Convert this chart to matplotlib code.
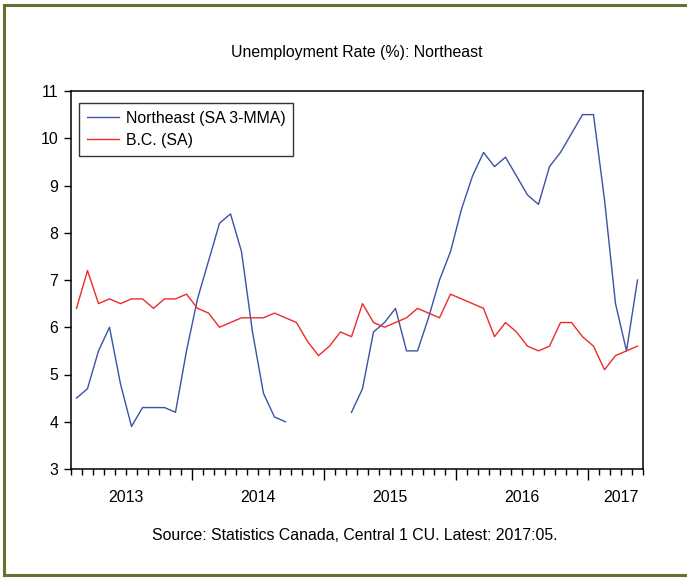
import numpy as np
import matplotlib
matplotlib.use("Agg")
import matplotlib.pyplot as plt
from matplotlib.lines import Line2D
from matplotlib.ticker import FixedLocator, NullFormatter

plt.rcParams["font.family"] = ["Liberation Sans", "DejaVu Sans"]

# Monthly, 2013:02 .. 2017:05 (52 obs); NaN = gap in the series
months = np.arange(52)
northeast = [4.5, 4.7, 5.5, 6.0, 4.8, 3.9, 4.3, 4.3, 4.3, 4.2, 5.5, 6.6,
             7.4, 8.2, 8.4, 7.6, 5.9, 4.6, 4.1, 4.0, np.nan, np.nan, np.nan, np.nan,
             np.nan, 4.2, 4.7, 5.9, 6.1, 6.4, 5.5, 5.5, 6.2, 7.0, 7.6, 8.5,
             9.2, 9.7, 9.4, 9.6, 9.2, 8.8, 8.6, 9.4, 9.7, 10.1, 10.5, 10.5,
             8.7, 6.5, 5.5, 7.0]
bc = [6.4, 7.2, 6.5, 6.6, 6.5, 6.6, 6.6, 6.4, 6.6, 6.6, 6.7, 6.4,
      6.3, 6.0, 6.1, 6.2, 6.2, 6.2, 6.3, 6.2, 6.1, 5.7, 5.4, 5.6,
      5.9, 5.8, 6.5, 6.1, 6.0, 6.1, 6.2, 6.4, 6.3, 6.2, 6.7, 6.6,
      6.5, 6.4, 5.8, 6.1, 5.9, 5.6, 5.5, 5.6, 6.1, 6.1, 5.8, 5.6,
      5.1, 5.4, 5.5, 5.6]
year_labels = ["2013", "2014", "2015", "2016", "2017"]
year_label_pos = [4.5, 16.5, 28.5, 40.5, 49.5]
year_breaks = [10.5, 22.5, 34.5, 46.5]

FS = 11.4
W, H = 687, 578
fig = plt.figure(figsize=(W / 100, H / 100), dpi=100)
ax = fig.add_axes([71 / W, 1 - 469 / H, (643 - 71) / W, (469 - 91) / H])

ax.plot(months, northeast, color="#3A53A4", lw=1.0, label="Northeast (SA 3-MMA)")
ax.plot(months, bc, color="#EE2A2A", lw=1.0, label="B.C. (SA)")

ax.set_xlim(-0.5, 51.5)
ax.set_ylim(3, 11)
ax.set_yticks(range(3, 12))
ax.tick_params(axis="y", direction="out", length=5, width=1, labelsize=FS, pad=4)

ax.xaxis.set_major_locator(FixedLocator(year_breaks))
ax.xaxis.set_minor_locator(FixedLocator(np.arange(-0.5, 52, 1)))
ax.xaxis.set_major_formatter(NullFormatter())
ax.tick_params(axis="x", which="major", direction="out", length=8, width=1)
ax.tick_params(axis="x", which="minor", direction="out", length=4, width=1)
for pos, lab in zip(year_label_pos, year_labels):
    ax.text(pos, -0.076, lab, transform=ax.get_xaxis_transform(),
            ha="center", va="center", fontsize=FS)

for s in ax.spines.values():
    s.set_linewidth(1.1)

leg = ax.legend(loc="upper left", bbox_to_anchor=(8 / 572, 1 - 12 / 378),
                fontsize=FS, frameon=True, fancybox=False, borderaxespad=0,
                handlelength=2.0, handletextpad=0.45, borderpad=0.5,
                labelspacing=0.45)
leg.get_frame().set_edgecolor("black")
leg.get_frame().set_linewidth(1.0)

fig.text(357 / W, 1 - 53 / H, "Unemployment Rate (%): Northeast",
         ha="center", va="center", fontsize=FS)
fig.text(355 / W, 1 - 535 / H, "Source: Statistics Canada, Central 1 CU. Latest: 2017:05.",
         ha="center", va="center", fontsize=FS)

# olive frame around the whole picture (right side runs off the image)
olive = "#6B7032"
fig.add_artist(Line2D([3.5 / W, 1.01], [1 - 4.5 / H] * 2, color=olive, lw=2.2,
                      transform=fig.transFigure))
fig.add_artist(Line2D([3.5 / W] * 2, [1 - 4.5 / H, 1 - 574.5 / H], color=olive, lw=2.2,
                      transform=fig.transFigure))
fig.add_artist(Line2D([3.5 / W, 1.01], [1 - 574.5 / H] * 2, color=olive, lw=2.2,
                      transform=fig.transFigure))

fig.savefig("out.png", dpi=100)
